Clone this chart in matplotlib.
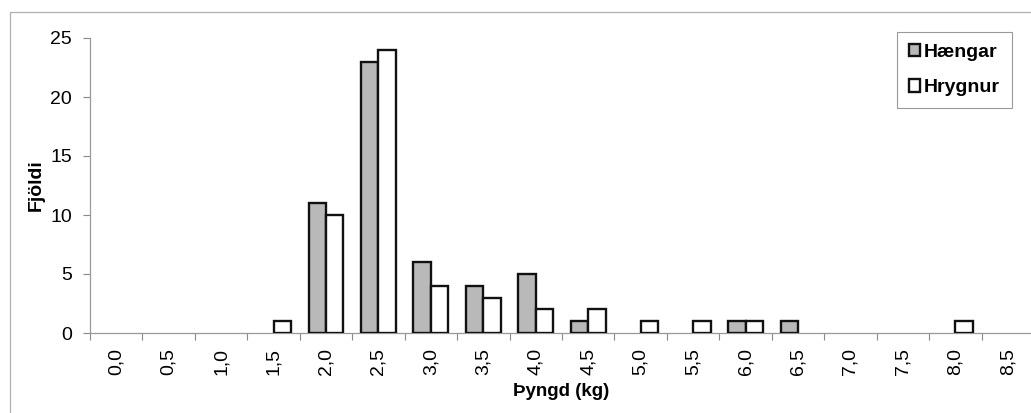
import matplotlib
matplotlib.use("Agg")
import matplotlib.pyplot as plt
import numpy as np
from matplotlib.patches import Rectangle

categories = ["0,0", "0,5", "1,0", "1,5", "2,0", "2,5", "3,0", "3,5", "4,0",
              "4,5", "5,0", "5,5", "6,0", "6,5", "7,0", "7,5", "8,0", "8,5"]
haengar = [0, 0, 0, 0, 11, 23, 6, 4, 5, 1, 0, 0, 1, 1, 0, 0, 0, 0]
hrygnur = [0, 0, 0, 1, 10, 24, 4, 3, 2, 2, 1, 1, 1, 0, 0, 0, 1, 0]

plt.rcParams['font.family'] = ['Liberation Sans', 'DejaVu Sans']

W, H = 1031, 413
fig = plt.figure(figsize=(W / 100, H / 100), dpi=100)
fig.patch.set_facecolor('white')

# outer chart border (cropped at right/bottom)
fig.add_artist(Rectangle((10 / W, -0.05), 1.1, 1 - 12 / H + 0.05,
                         transform=fig.transFigure, fill=False,
                         edgecolor='#b0b0b0', linewidth=0.9))

left, right = 90 / W, 1034 / W
bottom, top = (H - 333) / H, (H - 38) / H
ax = fig.add_axes([left, bottom, right - left, top - bottom])

x = np.arange(len(categories))
bw = 0.333
lw_h = [1.7 if v > 0 else 0 for v in haengar]
lw_f = [1.7 if v > 0 else 0 for v in hrygnur]
ax.bar(x - bw / 2, haengar, width=bw, color='#b9b9b9', edgecolor='#111111',
       linewidth=lw_h, label='Hængar', zorder=3)
ax.bar(x + bw / 2, hrygnur, width=bw, color='white', edgecolor='#111111',
       linewidth=lw_f, label='Hrygnur', zorder=3)

ax.set_xlim(-0.5, len(categories) - 0.5)
ax.set_ylim(0, 25)
ax.set_yticks([0, 5, 10, 15, 20, 25])
ax.tick_params(axis='y', direction='out', length=5, width=0.8, color='#888888',
               labelsize=14, pad=8)

ax.set_xticks(np.arange(len(categories) + 1) - 0.5)
ax.set_xticklabels([])
ax.set_xticks(x, minor=True)
ax.set_xticklabels(categories, minor=True, rotation=90, fontsize=14)
ax.tick_params(axis='x', which='major', direction='out', length=5, width=0.8,
               color='#888888')
ax.tick_params(axis='x', which='minor', length=0, pad=11)

for s in ['top', 'right']:
    ax.spines[s].set_visible(False)
for s in ['left', 'bottom']:
    ax.spines[s].set_color('#999999')
    ax.spines[s].set_linewidth(0.9)

fig.text(36 / W, 1 - 185 / H, 'Fjöldi', rotation=90, fontsize=14,
         fontweight='bold', ha='center', va='center')
fig.text(561 / W, 1 - 392 / H, 'Þyngd (kg)', fontsize=13.5,
         fontweight='bold', ha='center', va='center')

leg = ax.legend(loc='upper left', bbox_to_anchor=(897 / W, 1 - 32 / H),
                bbox_transform=fig.transFigure, borderaxespad=0,
                fancybox=False, shadow=False, framealpha=1,
                edgecolor='#999999', prop={'weight': 'bold', 'size': 14},
                handlelength=0.6, handleheight=0.6, handletextpad=0.2,
                labelspacing=0.95, borderpad=0.6)
leg.get_frame().set_linewidth(0.8)
for h in leg.legend_handles:
    h.set_linewidth(1.7)

fig.savefig('out.png', dpi=100)
